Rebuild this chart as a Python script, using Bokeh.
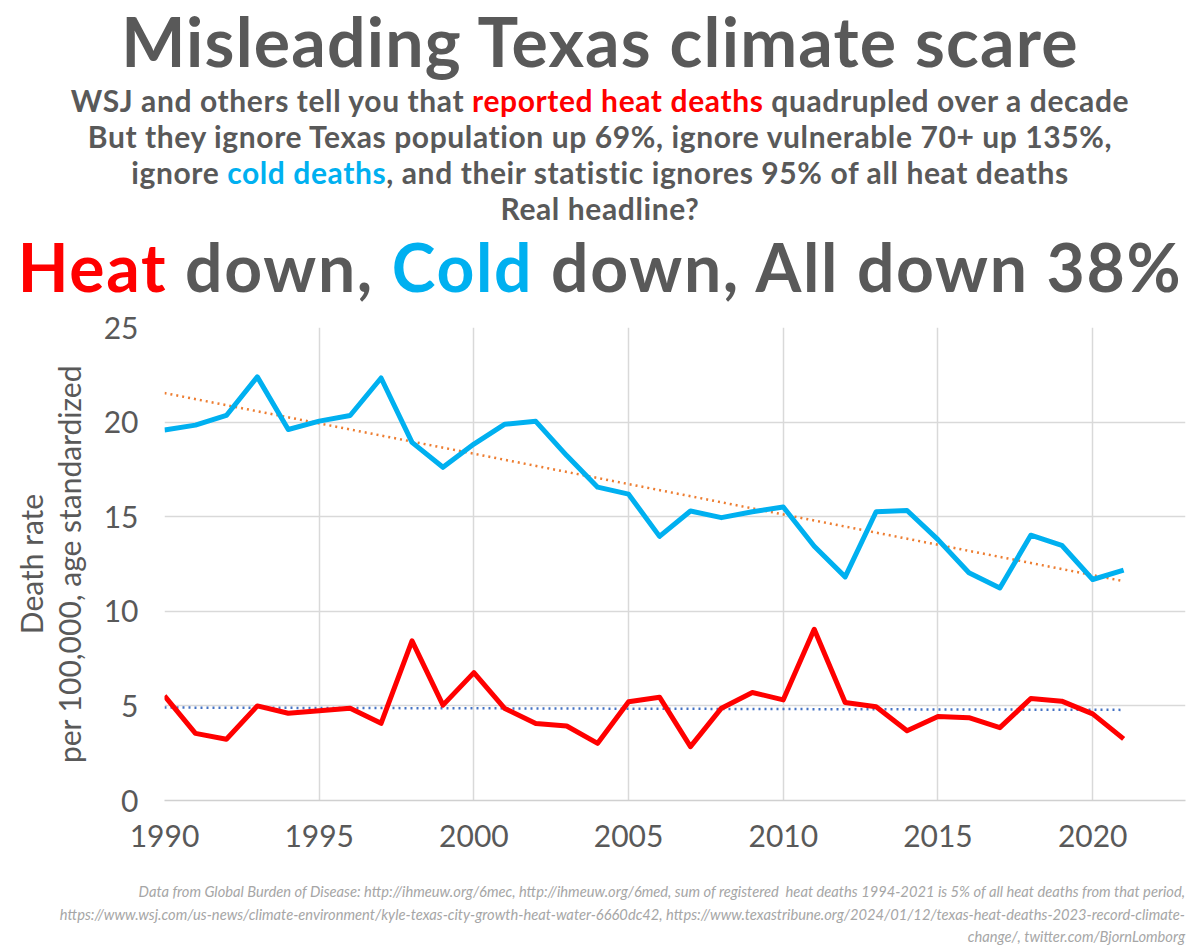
from bokeh.plotting import figure
from bokeh.models import Div, Range1d, FixedTicker
from bokeh.layouts import column
from bokeh.embed import file_html
from bokeh.resources import INLINE
import numpy as np

# ---------------- data ----------------
years = list(range(1990, 2022))
cold = [19.58, 19.84, 20.35, 22.39, 19.61, 20.05, 20.35, 22.33, 18.93, 17.61,
        18.84, 19.89, 20.04, 18.23, 16.56, 16.19, 13.96, 15.30, 14.95, 15.26,
        15.51, 13.44, 11.82, 15.26, 15.33, 13.79, 12.04, 11.23, 14.02, 13.49,
        11.68, 12.18]
heat = [5.53, 3.55, 3.24, 5.00, 4.61, 4.74, 4.88, 4.08, 8.44, 5.04,
        6.76, 4.86, 4.07, 3.94, 3.02, 5.22, 5.46, 2.85, 4.88, 5.71,
        5.32, 9.05, 5.18, 4.96, 3.69, 4.44, 4.38, 3.85, 5.39, 5.25,
        4.58, 3.26]
x_ticks = [1990, 1995, 2000, 2005, 2010, 2015, 2020]
y_ticks = [0, 5, 10, 15, 20, 25]

title_text = "Misleading Texas climate scare"
sub_lines = [
    ("WSJ and others tell you that ", "reported heat deaths", " quadrupled over a decade"),
    ("But they ignore Texas population up 69%, ignore vulnerable 70+ up 135%,", "", ""),
    ("ignore ", "cold deaths", ", and their statistic ignores 95% of all heat deaths"),
    ("Real headline?", "", ""),
]
footer_lines = [
    "Data from Global Burden of Disease: http://ihmeuw.org/6mec, http://ihmeuw.org/6med, sum of registered &nbsp;heat deaths 1994-2021 is 5% of all heat deaths from that period,",
    "https://www.wsj.com/us-news/climate-environment/kyle-texas-city-growth-heat-water-6660dc42, https://www.texastribune.org/2024/01/12/texas-heat-deaths-2023-record-climate-",
    "change/, twitter.com/BjornLomborg",
]

GRAY = "#595959"
RED = "#ff0000"
BLUE = "#00b0f0"
FONT = "Lato"
HEADER_H = 308

# ---------------- header ----------------
def line_div(top, h, size, inner, ls=0.0):
    return (f'<div style="position:absolute;left:0;top:{top}px;width:1200px;height:{h}px;'
            f'line-height:{h}px;text-align:center;font-size:{size}px;letter-spacing:{ls}px;'
            f'white-space:nowrap;">{inner}</div>')

parts = [line_div(0, 82, 68, title_text, 1.2)]
sub_colors = [RED, None, BLUE, None]
for i, (a, b, c) in enumerate(sub_lines):
    inner = a
    if b:
        inner += f'<span style="color:{sub_colors[i]}">{b}</span>'
    inner += c
    parts.append(line_div(82 + 36 * i, 36, 30, inner, 0.6))
headline = (f'<span style="color:{RED}">Heat</span> down, '
            f'<span style="color:{BLUE}">Cold</span> down, All down 38%')
parts.append(line_div(226, 82, 66, headline, 1.7))

header = Div(
    text=(f'<div style="position:relative;width:1200px;height:{HEADER_H}px;font-family:{FONT};'
          f'font-weight:bold;color:{GRAY};">' + "".join(parts) + '</div>'),
    width=1200, height=HEADER_H, margin=(0, 0, 0, 0),
)

# ---------------- chart ----------------
p = figure(width=1200, height=572, output_backend="svg", toolbar_location=None,
           x_range=Range1d(1990, 2023), y_range=Range1d(0, 25),
           min_border_top=19, min_border_bottom=80, min_border_left=164,
           min_border_right=15, margin=(0, 0, 0, 0))
p.outline_line_color = None
p.background_fill_color = "white"
p.border_fill_color = "white"

for g in (p.xgrid, p.ygrid):
    g.grid_line_color = "#d9d9d9"
    g.grid_line_width = 1.5
p.xgrid.ticker = FixedTicker(ticks=x_ticks)
p.ygrid.ticker = FixedTicker(ticks=y_ticks)

p.xaxis.ticker = FixedTicker(ticks=x_ticks)
p.yaxis.ticker = FixedTicker(ticks=y_ticks)
for ax in (p.xaxis, p.yaxis):
    ax.major_tick_line_color = None
    ax.minor_tick_line_color = None
    ax.major_label_text_font = FONT
    ax.major_label_text_font_size = "30px"
    ax.major_label_text_color = GRAY
p.xaxis.axis_line_color = "#d0d0d0"
p.xaxis.axis_line_width = 1.5
p.xaxis.major_label_standoff = 18
p.yaxis.axis_line_color = None
p.yaxis.major_label_standoff = 20
p.yaxis.axis_label = "Death rate\nper 100,000, age standardized"
p.yaxis.axis_label_text_font = FONT
p.yaxis.axis_label_text_font_style = "normal"
p.yaxis.axis_label_text_font_size = "30px"
p.yaxis.axis_label_text_color = GRAY
p.yaxis.axis_label_text_line_height = 1.05
p.yaxis.axis_label_standoff = 14

yrs = np.array(years, dtype=float)
c_fit = np.polyfit(yrs, cold, 1)
h_fit = np.polyfit(yrs, heat, 1)
tx = [years[0], years[-1]]

p.line(tx, list(np.polyval(c_fit, tx)), line_color="#ed7d31", line_width=2.5, line_dash="2 4")
p.line(tx, list(np.polyval(h_fit, tx)), line_color="#4472c4", line_width=2.5, line_dash="2 4")
p.line(years, cold, line_color=BLUE, line_width=5, line_join="round")
p.line(years, heat, line_color=RED, line_width=5, line_join="round")

# ---------------- footer ----------------
footer = Div(
    text=(f'<div style="width:1185px;text-align:right;font-family:{FONT};font-style:italic;'
          f'font-size:14.7px;line-height:22.5px;color:#a6a6a6;white-space:nowrap;padding-top:0px;">'
          + "<br>".join(footer_lines) + '</div>'),
    width=1200, height=69, margin=(0, 0, 0, 0),
)

layout = column(header, p, footer, spacing=0, margin=(0, 0, 0, 0))
open("out.html", "w").write(file_html(layout, INLINE))
